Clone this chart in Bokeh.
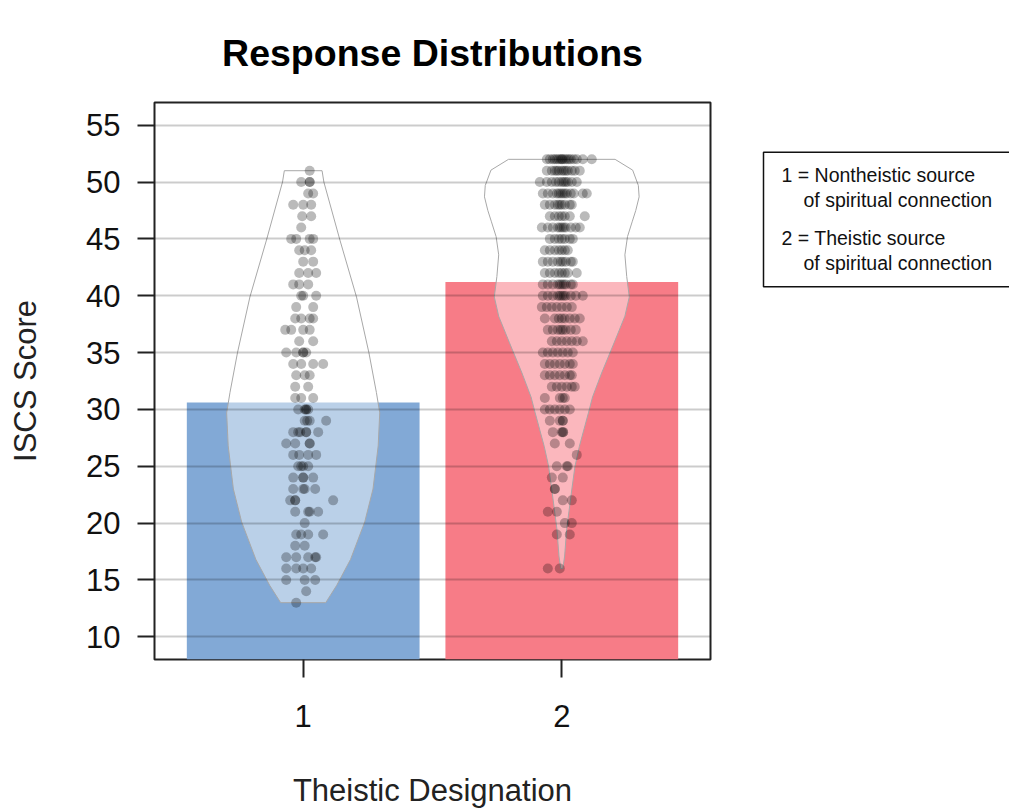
from bokeh.plotting import figure
from bokeh.models import Range1d, FixedTicker
from bokeh.layouts import row
from bokeh.embed import file_html
from bokeh.resources import INLINE
from bokeh.core.properties import value

# ---------------- data ----------------
groups = [1, 2]
group_labels = ["1", "2"]
bar_means = [30.6, 41.2]
bar_colors = ["#82A9D6", "#F77C87"]
y_ticks = [10, 15, 20, 25, 30, 35, 40, 45, 50, 55]

# violin outlines: score level and half width (x units)
violin1_y = [51.0, 50.0, 44.9, 39.9, 35.0, 31.5, 29.7, 26.8, 23.0, 20.1, 16.8, 14.5, 13.0]
violin1_hw = [0.073, 0.080, 0.142, 0.206, 0.254, 0.283, 0.296, 0.290, 0.270, 0.238, 0.183, 0.129, 0.087]
violin2_y = [52.0, 51.05, 49.7, 48.7, 47.5, 46.5, 45.2, 43.6, 41.7, 39.9, 38.2, 35.9, 33.2,
             31.1, 29.7, 26.75, 25.0, 23.0, 19.5, 17.1, 16.0]
violin2_hw = [0.206, 0.274, 0.296, 0.299, 0.286, 0.272, 0.254, 0.244, 0.251, 0.261, 0.244, 0.203, 0.154,
              0.119, 0.103, 0.068, 0.051, 0.039, 0.019, 0.011, 0.004]

# individual responses: score level -> jitter offsets (read in 1/259 x-unit steps)
group1_points = {
    51: [6.5], 50: [-2, 6.5, 6.5], 49: [5, 10], 48: [-10, 0, 8], 47: [-1, 8], 46: [-2],
    45: [-12, -7, 6.5, 10], 44: [-4, 1.5, 8], 43: [0, 10], 42: [-4, 5, 13], 41: [-10, -4, 5],
    40: [-2, 0, 13], 39: [-7, 10], 38: [-8, -2, 6.5, 10], 37: [-18, -12, 0, 6.5], 36: [-4, 10],
    35: [-17, -7, 0, 0, 3], 34: [-10, -2, 10, 20], 33: [-7, 1.5, 6.5], 32: [-8, 5],
    31: [-8, -2, 10], 30: [-5, 1.5, 3, 3, 5], 29: [1.5, 4, 6.5, 23], 28: [-10, -5, -3, 3, 3, 15],
    27: [-17, -8, 6.5, 6.5], 26: [-10, -4, 5, 13], 25: [-5, -2, 0, 5], 24: [-10, 0, 0, 10],
    23: [-10, 0, 1.5, 12], 22: [-13, -8, -8, 30], 21: [-8, 5, 6.5, 15], 20: [1.5],
    19: [-7, -2, 5, 20], 18: [-8, 1.5], 17: [-17, -7, 5, 12, 13], 16: [-17, -7, 0, 8],
    15: [-17, 1.5, 12], 14: [3], 13: [-7],
}
group2_points = {
    52: [-15, -12, -9, -7, -5, -3, -1, 0, 1, 3, 5, 7, 9, 12, 15, 21, 30],
    51: [-15, -10, -7, -5, -3, 0, 2, 4, 6, 10, 13, 18],
    50: [-22, -15, -10, -6, -3, 0, 2, 4, 6, 10, 15],
    49: [-19, -14, -9, -5, -3, -1, 1, 3, 5, 9, 12, 21, 25],
    48: [-17, -12, -7, -4, -2, 0, 3, 8, 10],
    47: [-12, -7, -3, 0, 3, 8, 23],
    46: [-20, -14, -9, -4, -2, 0, 2, 4, 9, 14, 18],
    45: [-12, -7, -3, 0, 3, 8, 11],
    44: [-17, -12, -7, -3, 0, 3, 6],
    43: [-19, -14, -9, -4, -1, 1, 4, 9, 11],
    42: [-17, -12, -7, -3, 0, 3, 6, 15],
    41: [-19, -14, -9, -4, -2, 0, 2, 4, 9, 11],
    40: [-19, -14, -9, -4, -2, 0, 2, 4, 9, 14, 21],
    39: [-20, -15, -10, -5, 0, 5, 10],
    38: [-17, -7, -3, 0, 3, 8, 13, 18],
    37: [-14, -9, -4, -1, 1, 4, 9, 14],
    36: [-10, -5, 0, 5, 10, 15, 21],
    35: [-19, -14, -9, -4, 1, 6, 11],
    34: [-17, -12, -7, -2, 3, 8, 11],
    33: [-17, -12, -7, -2, 3, 8, 10],
    32: [-10, -5, 0, 5, 10, 13],
    31: [-17, -2, 1, 3],
    30: [-17, -12, -7, -2, 3, 8],
    29: [-12, -2, 1, 1],
    28: [-9, 0, 1.3, 1.3],
    27: [-7, 8], 26: [15], 25: [-5, 5, 6], 24: [-10, 1], 23: [-7, -7], 22: [1, 10],
    21: [-14, -5], 20: [3, 10], 19: [-5, 8], 16: [-14, -2],
}
JITTER_STEP = 1 / 259.0

legend_lines = ["1 = Nontheistic source", "of spiritual connection",
                "2 = Theistic source", "of spiritual connection"]

FONT = "Liberation Sans"

# ---------------- main plot ----------------
p = figure(width=728, height=810, x_range=Range1d(0.425, 2.575), y_range=Range1d(8, 57),
           output_backend="svg", toolbar_location=None,
           min_border_left=154, min_border_right=18, min_border_top=102, min_border_bottom=149)
p.background_fill_color = "white"
p.border_fill_color = "white"

# bars
p.vbar(x=groups, top=bar_means, bottom=0, width=0.9, fill_color=bar_colors, line_color=None)

# violins
for g, vy, vhw in [(1, violin1_y, violin1_hw), (2, violin2_y, violin2_hw)]:
    xs = [g - w for w in reversed(vhw)] + [g + w for w in vhw]
    ys = list(reversed(vy)) + list(vy)
    p.patch(xs, ys, fill_color="white", fill_alpha=0.45, line_color="#A8A8A8", line_width=1)

# points
px, py = [], []
for g, pts in [(1, group1_points), (2, group2_points)]:
    for lvl, offs in pts.items():
        for o in offs:
            px.append(g + o * JITTER_STEP)
            py.append(lvl)
p.scatter(px, py, size=10, fill_color="black", fill_alpha=0.27, line_color=None)

# axes
p.xaxis.ticker = FixedTicker(ticks=groups)
p.xaxis.major_label_overrides = {g: l for g, l in zip(groups, group_labels)}
p.yaxis.ticker = FixedTicker(ticks=y_ticks)
for ax in (p.xaxis, p.yaxis):
    ax.axis_line_color = None
    ax.minor_tick_line_color = None
    ax.major_tick_in = 0
    ax.major_tick_line_color = "#222222"
    ax.major_tick_line_width = 2
    ax.major_label_text_font = FONT
    ax.major_label_text_font_size = "31px"
    ax.major_label_text_color = "#111111"
    ax.axis_label_text_font = FONT
    ax.axis_label_text_font_size = "31px"
    ax.axis_label_text_font_style = "normal"
    ax.axis_label_text_color = "#222222"
p.xaxis.major_tick_out = 18
p.xaxis.major_label_standoff = 27
p.xaxis.axis_label = "Theistic Designation"
p.xaxis.axis_label_standoff = 43
p.yaxis.major_tick_out = 17
p.yaxis.major_label_standoff = 17
p.yaxis.axis_label = "ISCS Score"
p.yaxis.axis_label_standoff = 40

p.xgrid.visible = False
p.ygrid.ticker = FixedTicker(ticks=y_ticks)
p.ygrid.grid_line_color = "black"
p.ygrid.grid_line_alpha = 0.2
p.ygrid.grid_line_width = 2
p.ygrid.level = "overlay"

p.outline_line_color = "#222222"
p.outline_line_width = 2
p.outline_line_alpha = 1

p.title.text = "Response Distributions"
p.title.text_font = FONT
p.title.text_font_size = "37.5px"
p.title.text_font_style = "bold"
p.title.text_color = "black"
p.title.align = "center"
p.title.standoff = 58

# ---------------- legend panel ----------------
# frame is aligned with the main plot frame; ranges are expressed in page pixels
leg = figure(width=281, height=810, x_range=Range1d(728, 1009), y_range=Range1d(661, 102),
             output_backend="svg", toolbar_location=None,
             min_border_left=0, min_border_right=0, min_border_top=102, min_border_bottom=149,
             x_axis_location=None, y_axis_location=None)
leg.grid.visible = False
leg.outline_line_color = None
leg.background_fill_color = "white"
leg.border_fill_color = "white"
leg.quad(left=[763], right=[1030], top=[152], bottom=[287], fill_color=None,
         line_color="#111111", line_width=1.5)
leg.text(x=[781, 803, 781, 803], y=[175, 200, 238, 263], text=legend_lines,
         text_font=value(FONT), text_font_size="19.5px", text_baseline="alphabetic",
         text_color="#111111")

layout = row(p, leg)
open("out.html", "w").write(file_html(layout, INLINE))
